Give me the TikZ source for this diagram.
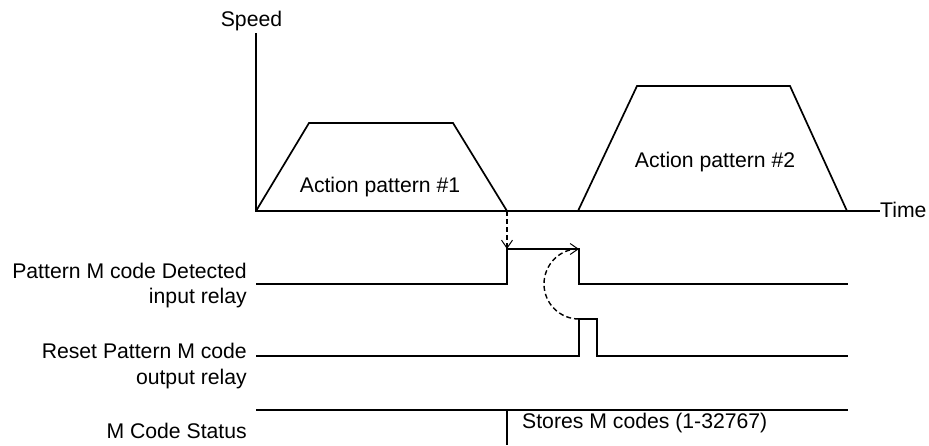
\documentclass[tikz,border=0pt]{standalone}
\usepackage{fontspec}
\setmainfont{Liberation Sans}
\usetikzlibrary{arrows.meta}
\begin{document}
\begin{tikzpicture}[x=1pt,y=-1pt,
  lbl/.style={inner sep=0pt, font=\fontsize{21.2}{25}\selectfont},
  sig/.style={line width=1.7pt, line join=miter},
  dsh/.style={line width=1.4pt, dash pattern=on 5pt off 3pt},
  vtip/.style={-{Straight Barb[length=8pt,width=11pt,line width=1pt]}}]
\useasboundingbox (0,0) rectangle (929,445);
% axes
\coordinate (O) at (256,211);
\coordinate (ytop) at (256,33);
\coordinate (xend) at (880,211);
\draw[sig] (ytop) -- (O) -- (xend);
\node[lbl, anchor=base] (speed) at (251.5,26) {Speed};
\node[lbl, anchor=base west] (time) at (880,217) {Time};
% action patterns
\coordinate (a1) at (309,123);
\coordinate (a2) at (453,123);
\coordinate (a3) at (507,211);
\draw[sig] (O) -- (a1) -- (a2) -- (a3);
\coordinate (b0) at (578,211);
\coordinate (b1) at (637,86);
\coordinate (b2) at (790,86);
\coordinate (b3) at (847,211);
\draw[sig] (b0) -- (b1) -- (b2) -- (b3);
\node[lbl, anchor=base] (ap1) at (380,192) {Action pattern \#1};
\node[lbl, anchor=base] (ap2) at (715,167) {Action pattern \#2};
% signal 1
\coordinate (s1a) at (256,284);
\coordinate (s1b) at (507,284);
\coordinate (s1c) at (507,249);
\coordinate (s1d) at (579,249);
\coordinate (s1e) at (579,284);
\coordinate (s1f) at (848,284);
\draw[sig] (s1a) -- (s1b) -- (s1c) -- (s1d) -- (s1e) -- (s1f);
% signal 2
\coordinate (s2a) at (256,356);
\coordinate (s2b) at (579,356);
\coordinate (s2c) at (579,319);
\coordinate (s2d) at (597,319);
\coordinate (s2e) at (597,356);
\coordinate (s2f) at (848,356);
\draw[sig] (s2a) -- (s2b) -- (s2c) -- (s2d) -- (s2e) -- (s2f);
% status
\coordinate (s3a) at (256,410);
\coordinate (s3b) at (848,410);
\coordinate (s3c) at (507,410);
\coordinate (s3d) at (507,445);
\draw[sig] (s3a) -- (s3b);
\draw[sig] (s3c) -- (s3d);
% dashed connectors
\draw[dsh, vtip] (a3) -- (s1c);
\draw[dsh, vtip] (s2c) arc[start angle=90, end angle=270, radius=35];
% labels
\node[lbl, anchor=base east] (l1a) at (247,278) {Pattern M code Detected};
\node[lbl, anchor=base east] (l1b) at (247,303) {input relay};
\node[lbl, anchor=base east] (l2a) at (247,358) {Reset Pattern M code};
\node[lbl, anchor=base east] (l2b) at (247,384) {output relay};
\node[lbl, anchor=base east] (l3) at (247,438) {M Code Status};
\node[lbl, anchor=base west] (st) at (522,428) {Stores M codes (1-32767)};
\end{tikzpicture}
\end{document}
